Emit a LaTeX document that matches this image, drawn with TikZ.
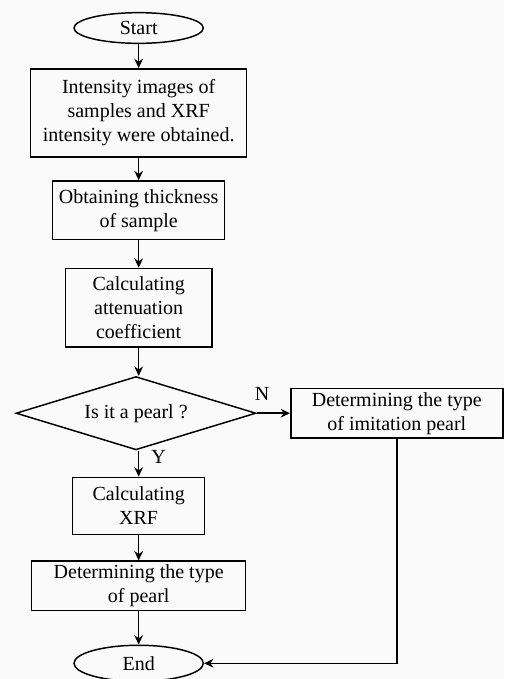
\documentclass[tikz,border=0pt]{standalone}
\usepackage{fontspec}
\setmainfont{Liberation Serif}
\usetikzlibrary{positioning}
\usetikzlibrary{arrows.meta}
\usetikzlibrary{shapes.geometric}
\definecolor{pagegray}{RGB}{250,250,250}
\tikzstyle{startstop} = [ellipse, 
    minimum width=97pt, 
    minimum height=23pt, 
    inner sep=0pt, 
    draw=black, 
    line width=1.1pt]
\tikzstyle{process} = [rectangle, 
    text centered, 
    align=center, 
    inner sep=2pt, 
    draw=black, 
    line width=1.1pt]
\tikzstyle{decision} = [diamond, 
    aspect=3.27, 
    minimum width=180pt, 
    minimum height=55pt, 
    inner sep=0pt, 
    draw=black, 
    line width=1.1pt]
\tikzstyle{arrow} = [line width=1.1pt,-{Stealth[length=7pt,width=6.5pt]}]

\begin{document}
\begin{tikzpicture}[node distance=20pt, font=\fontsize{15}{18}\selectfont]

\fill[pagegray] (0,0) rectangle (378pt,-509.25pt);
\useasboundingbox (0,0) rectangle (378pt,-509.25pt);

\node (start) [startstop] at (104pt,-21pt) {Start};

\node (intensity) [process, minimum width=162pt, minimum height=66pt, below=18pt of start] {Intensity images of\\samples and XRF\\intensity were obtained.};

\node (thickness) [process, minimum width=129pt, minimum height=44pt, below=17pt of intensity] {Obtaining thickness\\of sample};

\node (atten) [process, minimum width=110pt, minimum height=59pt, below=20.5pt of thickness] {Calculating\\attenuation\\coefficient};

\node (pearl) [decision, xshift=-2pt, below=21pt of atten] {Is it a pearl ?};

\node (imitation) [process, minimum width=159pt, minimum height=37pt, right=25pt of pearl] {Determining the type\\of imitation pearl};

\node (xrf) [process, minimum width=99pt, minimum height=43pt, below=19.5pt of pearl, xshift=2pt] {Calculating\\XRF};

\node (pearltype) [process, minimum width=160.5pt, minimum height=37pt, below=18.75pt of xrf] {Determining the type\\of pearl};

\node (stop) [startstop, minimum height=27pt, below=25pt of pearltype] {End};

%\node labels of the decision
\node (no) [above=6pt of pearl.east, xshift=4pt] {N};
\node (yes) [right=8pt of pearl.south, yshift=-4.5pt] {Y};

\draw [arrow] (start) -- (intensity);
\draw [arrow] (intensity) -- (thickness);
\draw [arrow] (thickness) -- (atten);
\draw [arrow] (atten) -- (atten |- pearl.north);
\draw [arrow] (pearl) -- (imitation);
\draw [arrow] (xrf |- pearl.south) -- (xrf);
\draw [arrow] (xrf) -- (pearltype);
\draw [arrow] (pearltype) -- (stop);
\draw [arrow] (imitation.south) |- (stop.east);

\end{tikzpicture}
\end{document}
